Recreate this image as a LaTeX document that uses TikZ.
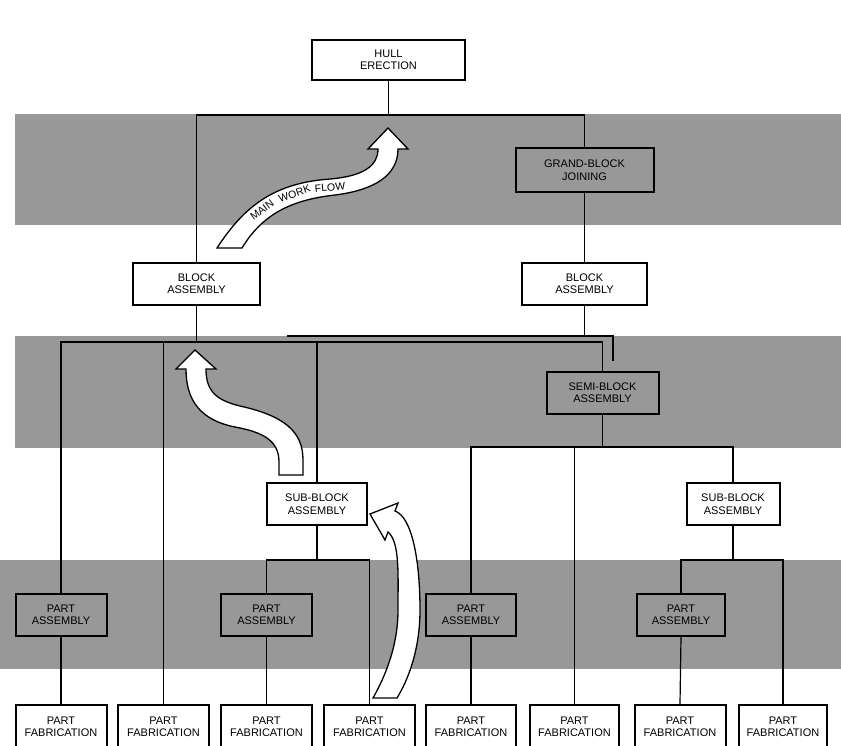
\documentclass[tikz,border=0pt]{standalone}
\usepackage{fontspec}
\setmainfont{Liberation Sans}
\definecolor{bandgray}{RGB}{152,152,152}
\tikzset{
  stage/.style={draw,line width=2pt,align=center,inner sep=0pt,minimum height=42pt,
    font=\fontsize{11}{12.5}\selectfont},
  flow/.style={draw,line width=1.3pt,fill=white},
  flowtext/.style={inner sep=0pt,font=\fontsize{10.5}{10.5}\selectfont},
}
\begin{document}
\begin{tikzpicture}[x=1pt,y=-1pt,line width=1.2pt]
  \useasboundingbox (0,0) rectangle (841,745);
  \fill[bandgray] (15,114) rectangle (841,225);
  \fill[bandgray] (15,336) rectangle (841,448);
  \fill[bandgray] (0,560) rectangle (841,669);
  \coordinate (bus1) at (0,115);
  \coordinate (bus2) at (0,342);
  \coordinate (bus3) at (0,447);
  \coordinate (bus4) at (0,560);
  \coordinate (offl) at (287,336);
  \coordinate (offr) at (613,336);
  \coordinate (offe) at (613,361);
  \node[stage,minimum width=153pt,minimum height=40pt] (hull) at (388.5,60) {HULL\\ERECTION};
  \node[stage,minimum width=138pt,minimum height=44pt] (gbj) at (584.5,170) {GRAND-BLOCK\\JOINING};
  \node[stage,minimum width=125pt] (ba2) at (584.5,283.5) {BLOCK\\ASSEMBLY};
  \node[stage,minimum width=127pt] (ba1) at (196.5,283.5) {BLOCK\\ASSEMBLY};
  \node[stage,minimum width=112pt] (semi) at (602.5,392.5) {SEMI-BLOCK\\ASSEMBLY};
  \node[stage,minimum width=100pt] (sb1) at (317,504) {SUB-BLOCK\\ASSEMBLY};
  \node[stage,minimum width=93pt] (sb2) at (733,504) {SUB-BLOCK\\ASSEMBLY};
  \node[stage,minimum width=91pt] (pa1) at (61,615) {PART\\ASSEMBLY};
  \node[stage,minimum width=91pt] (pa2) at (266.5,615) {PART\\ASSEMBLY};
  \node[stage,minimum width=90pt] (pa3) at (471,615) {PART\\ASSEMBLY};
  \node[stage,minimum width=88pt] (pa4) at (681,615) {PART\\ASSEMBLY};
  \node[stage,minimum width=91pt,minimum height=44pt] (pf1) at (61,727) {PART\\FABRICATION};
  \node[stage,minimum width=91pt,minimum height=44pt] (pf2) at (163.5,727) {PART\\FABRICATION};
  \node[stage,minimum width=91pt,minimum height=44pt] (pf3) at (266.5,727) {PART\\FABRICATION};
  \node[stage,minimum width=91pt,minimum height=44pt] (pf4) at (369.5,727) {PART\\FABRICATION};
  \node[stage,minimum width=90pt,minimum height=44pt] (pf5) at (471,727) {PART\\FABRICATION};
  \node[stage,minimum width=89pt,minimum height=44pt] (pf6) at (574.5,727) {PART\\FABRICATION};
  \node[stage,minimum width=91pt,minimum height=44pt] (pf7) at (680,727) {PART\\FABRICATION};
  \node[stage,minimum width=88pt,minimum height=44pt] (pf8) at (783,727) {PART\\FABRICATION};
  \draw (ba1.north) -- (ba1.north |- bus1) -- (gbj.north |- bus1) -- (gbj.north);
  \draw (hull.south) -- (hull.south |- bus1);
  \draw (gbj.south) -- (ba2.north);
  \draw (ba2.south) -- (ba2.south |- offl);
  \draw (offl) -- (offr) -- (offe);
  \draw (ba1.south) -- (ba1.south |- bus2);
  \draw (pa1.north) -- (pa1.north |- bus2) -- (semi.north |- bus2) -- (semi.north);
  \draw (pf2.north) -- (pf2.north |- bus2);
  \draw (sb1.north) -- (sb1.north |- bus2);
  \draw (semi.south) -- (semi.south |- bus3);
  \draw (pa3.north) -- (pa3.north |- bus3) -- (sb2.north |- bus3) -- (sb2.north);
  \draw (pf6.north) -- (pf6.north |- bus3);
  \draw (sb1.south) -- (sb1.south |- bus4);
  \draw (pa2.north) -- (pa2.north |- bus4) -- (pf4.north |- bus4) -- (pf4.north);
  \draw (sb2.south) -- (sb2.south |- bus4);
  \draw (pa4.north) -- (pa4.north |- bus4) -- (pf8.north |- bus4) -- (pf8.north);
  \draw (pa1.south) -- (pf1.north);
  \draw (pa2.south) -- (pf3.north);
  \draw (pa3.south) -- (pf5.north);
  \draw (pa4.south) -- (pf7.north);
  \draw[flow] (217,248) .. controls (245,205) and (275,183) .. (330,179)
    .. controls (365,176) and (378,165) .. (378,149) -- (368,149) -- (388,128) -- (408,149) -- (398,149)
    .. controls (398,175) and (375,190) .. (335,195) .. controls (290,200) and (262,215) .. (242,248) -- cycle;
  \node[flowtext,rotate=36] (mwf1) at (262,210) {MAIN};
  \node[flowtext,rotate=19] (mwf2) at (294.5,193.5) {WORK};
  \node[flowtext,rotate=5] (mwf3) at (330,187.5) {FLOW};
  \draw[flow] (279,475) -- (279,462) .. controls (279,440) and (262,432) .. (235,427)
    .. controls (200,420) and (186,400) .. (186,369) -- (176,369) -- (195,350) -- (216,369) -- (206,369)
    .. controls (206,390) and (215,400) .. (240,406) .. controls (285,416) and (303,432) .. (303,460) -- (303,475) -- cycle;
  \draw[flow] (373,698) .. controls (386,675) and (398,645) .. (398,610)
    .. controls (398,575) and (400,542) .. (388,532) -- (385,540) -- (370,514) -- (398,503) -- (395,511)
    .. controls (412,517) and (420,560) .. (420,610) .. controls (420,650) and (408,680) .. (397,698) -- cycle;
\end{tikzpicture}
\end{document}
